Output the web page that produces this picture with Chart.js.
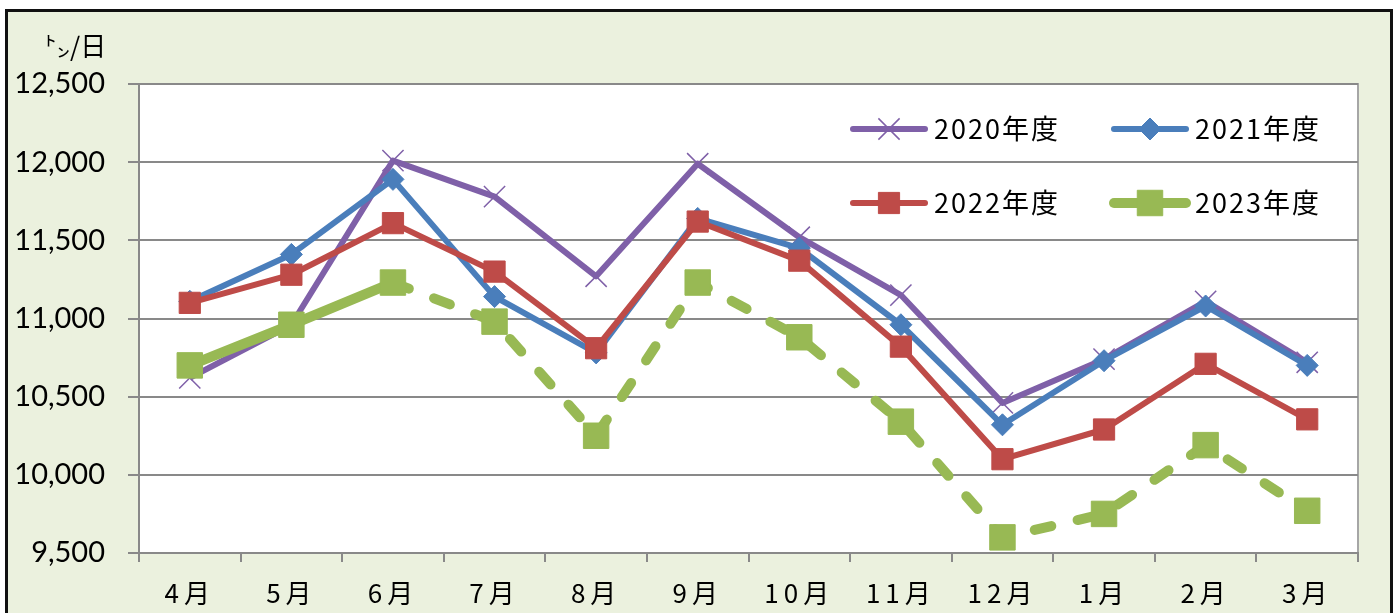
<!DOCTYPE html>
<html lang="ja">
<head>
<meta charset="utf-8">
<title>月別 ㌧/日</title>
<script src="https://cdn.jsdelivr.net/npm/chart.js@4/dist/chart.umd.min.js"></script>
<style>
	html, body { margin: 0; padding: 0; background: #fff; }
	#wrap { position: relative; width: 1400px; height: 613px; }
</style>
</head>
<body>
<div id="wrap"><canvas id="myChart"></canvas></div>
<script>
const months = ["4月", "5月", "6月", "7月", "8月", "9月", "10月", "11月", "12月", "1月", "2月", "3月"];
const seriesNames = ["2020年度", "2021年度", "2022年度", "2023年度"];
const fy2020 = [10620, 10960, 12010, 11780, 11270, 11990, 11520, 11150, 10460, 10740, 11110, 10720];
const fy2021 = [11110, 11410, 11890, 11140, 10780, 11640, 11450, 10960, 10320, 10730, 11080, 10700];
const fy2022 = [11100, 11280, 11610, 11300, 10810, 11620, 11370, 10820, 10100, 10290, 10710, 10355];
const fy2023 = [10700, 10960, 11230, 10980, 10250, 11230, 10880, 10340, 9600, 9750, 10190, 9770];
const yMin = 9500;
const yMax = 12500;
const yStep = 500;
const unitLabel = "㌧/日";

// legend spots (line centre x, row y)
const legendSpots = [[889, 129], [1150, 129], [889, 203], [1150, 203]];

const chartFrame = {
	id: "chartFrame",
	beforeDraw(chart) {
		const ctx = chart.ctx;
		const a = chart.chartArea;
		ctx.save();
		ctx.fillStyle = "#ffffff";
		ctx.fillRect(0, 0, chart.width, chart.height);
		ctx.fillStyle = "#EBF1DE";
		ctx.fillRect(6, 10, 1386, 640);
		ctx.strokeStyle = "#111111";
		ctx.lineWidth = 3;
		ctx.strokeRect(6.5, 10.5, 1385, 640);
		ctx.fillStyle = "#ffffff";
		ctx.fillRect(a.left, a.top, a.right - a.left, a.bottom - a.top);
		ctx.strokeStyle = "#A6A6A6";
		ctx.lineWidth = 2;
		ctx.strokeRect(a.left, a.top, a.right - a.left, a.bottom - a.top);
		ctx.fillStyle = "#000000";
		ctx.font = '26px "Noto Sans CJK JP"';
		ctx.textBaseline = "alphabetic";
		ctx.fillText(unitLabel, 44, 56);
		ctx.restore();
	},
	afterDatasetsDraw(chart) {
		// x tick labels are on a z>0 layer, drawn after this
		chart.ctx.letterSpacing = "5px";
	},
	afterDraw(chart) {
		const ctx = chart.ctx;
		ctx.letterSpacing = "0px";
		ctx.save();
		chart.data.datasets.forEach(function (ds, i) {
			const cx = legendSpots[i][0];
			const cy = legendSpots[i][1];
			ctx.strokeStyle = ds.borderColor;
			ctx.lineWidth = ds.borderWidth;
			ctx.lineCap = "round";
			ctx.setLineDash([]);
			ctx.beginPath();
			ctx.moveTo(cx - 36, cy);
			ctx.lineTo(cx + 36, cy);
			ctx.stroke();
			ctx.fillStyle = ds.pointBackgroundColor;
			ctx.strokeStyle = ds.pointBorderColor;
			ctx.lineWidth = ds.pointBorderWidth;
			ctx.lineCap = "butt";
			Chart.helpers.drawPoint(ctx, { pointStyle: ds.pointStyle, radius: ds.pointRadius, borderWidth: ds.pointBorderWidth, rotation: 0 }, cx, cy);
			ctx.fillStyle = "#000000";
			ctx.font = '27px "Noto Sans CJK JP"';
			ctx.letterSpacing = "2px";
			ctx.textBaseline = "middle";
			ctx.textAlign = "left";
			ctx.fillText(ds.label, cx + 45, cy);
			ctx.letterSpacing = "0px";
		});
		ctx.restore();
	},
};

window.addEventListener(
	"load",
	function () {
		const data = {
			labels: months,
			datasets: [
				{
					label: seriesNames[0],
					data: fy2020,
					order: 4,
					borderColor: "#7F60A8",
					borderWidth: 6,
					pointStyle: "crossRot",
					pointRadius: 15,
					pointBorderWidth: 1.5,
					pointBorderColor: "#7F60A8",
					pointBackgroundColor: "#7F60A8",
				},
				{
					label: seriesNames[1],
					data: fy2021,
					order: 3,
					borderColor: "#4A7EBB",
					borderWidth: 6,
					pointStyle: "rectRot",
					pointRadius: 11,
					pointBorderWidth: 1,
					pointBorderColor: "#4A7EBB",
					pointBackgroundColor: "#4A7EBB",
				},
				{
					label: seriesNames[2],
					data: fy2022,
					order: 2,
					borderColor: "#BE4B48",
					borderWidth: 6,
					pointStyle: "rect",
					pointRadius: 15,
					pointBorderWidth: 1,
					pointBorderColor: "#BE4B48",
					pointBackgroundColor: "#BE4B48",
				},
				{
					label: seriesNames[3],
					data: fy2023,
					order: 1,
					borderColor: "#98B954",
					borderWidth: 10,
					borderCapStyle: "round",
					pointStyle: "rect",
					pointRadius: 18,
					pointBorderWidth: 1,
					pointBorderColor: "#98B954",
					pointBackgroundColor: "#98B954",
					segment: {
						borderDash: (ctx) => (ctx.p0DataIndex >= 2 ? [17, 27] : undefined),
					},
				},
			],
		};

		const config = {
			type: "line",
			data: data,
			options: {
				responsive: true,
				maintainAspectRatio: false,
				animation: false,
				layout: {
					padding: { top: 84, right: 42, left: 0, bottom: 0 },
				},
				elements: {
					line: {
						tension: 0,
						fill: false,
						borderJoinStyle: "round",
					},
				},
				plugins: {
					legend: { display: false },
					tooltip: { enabled: false },
				},
				scales: {
					x: {
						offset: true,
						grid: {
							offset: true,
							drawOnChartArea: false,
							drawTicks: true,
							tickLength: 9,
							color: "#898989",
							lineWidth: 2,
						},
						border: { display: true, color: "#898989", width: 2 },
						ticks: {
							z: 1,
							color: "#000000",
							padding: 16,
							maxRotation: 0,
							autoSkip: false,
							font: { family: '"Noto Sans CJK JP"', size: 26 },
						},
						afterFit: function (scale) {
							scale.height = 60;
						},
					},
					y: {
						min: yMin,
						max: yMax,
						grid: {
							color: "#898989",
							lineWidth: 2,
							tickLength: 11,
						},
						border: { display: true, color: "#898989", width: 2 },
						ticks: {
							stepSize: yStep,
							color: "#000000",
							padding: 23,
							font: { family: "Lato", size: 29 },
							callback: (v) => v.toLocaleString("en-US"),
						},
						afterFit: function (scale) {
							scale.width = 139;
						},
					},
				},
			},
			plugins: [chartFrame],
		};

		//load
		const myChart = new Chart(document.getElementById("myChart"), config);
	},
	false
);
</script>
</body>
</html>
